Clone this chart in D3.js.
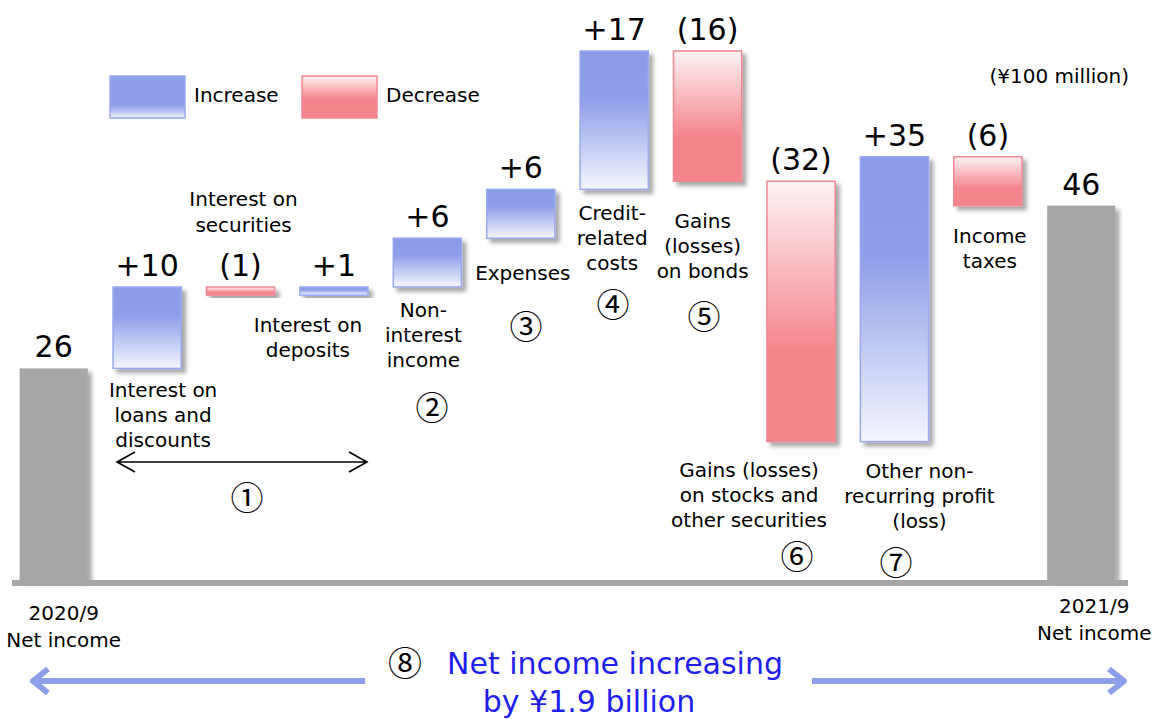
<!DOCTYPE html>
<html>
<head>
<meta charset="utf-8">
<script src="https://cdn.jsdelivr.net/npm/d3@7"></script>
<style>
  body { margin: 0; background: #fff; }
  text { font-family: "DejaVu Sans", Verdana, sans-serif; fill: #000; }
</style>
</head>
<body>
<svg width="1153" height="719"></svg>
<script>
// данные: категории, изменения и подписи
const categories = ["2020/9 Net income", "Interest on loans and discounts", "Interest on securities",
    "Interest on deposits", "Non-interest income", "Expenses", "Credit-related costs",
    "Gains (losses) on bonds", "Gains (losses) on stocks and other securities",
    "Other non-recurring profit (loss)", "Income taxes", "2021/9 Net income"];
const values = [26, 10, -1, 1, 6, 6, 17, -16, -32, 35, -6, 46];
const kinds = ["total", "delta", "delta", "delta", "delta", "delta", "delta", "delta", "delta", "delta", "delta", "total"];
const valueLabels = ["26", "+10", "(1)", "+1", "+6", "+6", "+17", "(16)", "(32)", "+35", "(6)", "46"];
const labelLines = [
    ["2020/9", "Net income"], ["Interest on", "loans and", "discounts"], ["Interest on", "securities"],
    ["Interest on", "deposits"], ["Non-", "interest", "income"], ["Expenses"], ["Credit-", "related", "costs"],
    ["Gains", "(losses)", "on bonds"], ["Gains (losses)", "on stocks and", "other securities"],
    ["Other non-", "recurring profit", "(loss)"], ["Income", "taxes"], ["2021/9", "Net income"]];
const groupMarks = ["①", "②", "③", "④", "⑤", "⑥", "⑦"];
const legendItems = ["Increase", "Decrease"];
const unitText = "(¥100 million)";
const summaryMark = "⑧";
const summaryLines = ["Net income increasing", "by ¥1.9 billion"];

// раскладка подписей: смещение от центра столбца и базовая линия первой строки
const labelAt = [
    {dx: 10, y: 620, lh: 27}, {dx: 16, y: 397, lh: 25}, {dx: 3, y: 206, lh: 26}, {dx: -26, y: 332, lh: 25},
    {dx: -4, y: 317, lh: 25}, {dx: 2, y: 280, lh: 25}, {dx: -2, y: 220, lh: 25}, {dx: -5, y: 228, lh: 25},
    {dx: -52, y: 477, lh: 25}, {dx: 25, y: 478, lh: 25}, {dx: 2, y: 243, lh: 25}, {dx: 13, y: 613, lh: 27}];
const markAt = [{x: 247, y: 498}, {x: 432, y: 408}, {x: 526, y: 327}, {x: 613, y: 305},
    {x: 704, y: 317}, {x: 797, y: 557}, {x: 896, y: 563}];

const svg = d3.select("svg");

// накопленные значения для водопада
let acc = 0;
const bars = values.map((v, i) => {
    let b;
    if (kinds[i] === "total") { b = {y0: 0, y1: v}; acc = v; }
    else { b = {y0: acc, y1: acc + v}; acc += v; }
    return {i, v, kind: kinds[i], lo: Math.min(b.y0, b.y1), hi: Math.max(b.y0, b.y1)};
});

const x = d3.scaleBand().domain(d3.range(categories.length)).range([7, 1128])
    .paddingInner(0.27).paddingOuter(0.135);
const y = d3.scaleLinear().domain([0, 65]).range([580, 51]);

const defs = svg.append("defs");
const shadow = defs.append("filter").attr("id", "shadow")
    .attr("x", "-20%").attr("y", "-20%").attr("width", "150%").attr("height", "150%");
shadow.append("feDropShadow").attr("dx", 4).attr("dy", 4).attr("stdDeviation", 2.2)
    .attr("flood-color", "#000").attr("flood-opacity", 0.35);

function grad(id, stops) {
    const g = defs.append("linearGradient").attr("id", id)
        .attr("x1", 0).attr("y1", 0).attr("x2", 0).attr("y2", 1);
    stops.forEach(s => g.append("stop").attr("offset", s[0]).attr("stop-color", s[1]));
}
grad("gUp", [[0, "#8b9be8"], [0.35, "#8e9ee9"], [1, "#f4f6fd"]]);
grad("gDown", [[0, "#fdf3f4"], [0.65, "#f4858d"], [1, "#f4858d"]]);
grad("gUpLeg", [[0, "#8e9ee9"], [0.7, "#8e9ee9"], [1, "#eef1fc"]]);
grad("gDownLeg", [[0, "#fdf3f4"], [0.55, "#f4858d"], [1, "#f4858d"]]);

const fillOf = d => d.kind === "total" ? "#a6a6a6" : (d.v >= 0 ? "url(#gUp)" : "url(#gDown)");
const strokeOf = d => d.kind === "total" ? "none" : (d.v >= 0 ? "#9aa9ee" : "#f08891");

svg.append("g").selectAll("rect").data(bars).join("rect")
    .attr("x", d => x(d.i))
    .attr("y", d => y(d.hi))
    .attr("width", x.bandwidth())
    .attr("height", d => y(d.lo) - y(d.hi))
    .attr("fill", fillOf)
    .attr("stroke", strokeOf)
    .attr("stroke-width", 1.5)
    .attr("filter", "url(#shadow)");

// базовая линия
svg.append("line")
    .attr("x1", 12).attr("x2", 1128).attr("y1", y(0) + 3).attr("y2", y(0) + 3)
    .attr("stroke", "#a6a6a6").attr("stroke-width", 6);

// подписи значений
svg.append("g").selectAll("text").data(bars).join("text")
    .attr("x", d => x(d.i) + x.bandwidth() / 2)
    .attr("y", d => y(d.hi) - 11)
    .attr("text-anchor", "middle")
    .style("font-size", "30px")
    .text(d => valueLabels[d.i]);

// подписи категорий
const cat = svg.append("g").selectAll("text").data(bars).join("text")
    .attr("text-anchor", "middle")
    .style("font-size", "20px");
cat.each(function(d) {
    const pos = labelAt[d.i];
    const cx = x(d.i) + x.bandwidth() / 2 + pos.dx;
    d3.select(this).selectAll("tspan").data(labelLines[d.i]).join("tspan")
        .attr("x", cx)
        .attr("y", (t, k) => pos.y + k * pos.lh)
        .text(t => t);
});

// номера групп
svg.append("g").selectAll("text").data(groupMarks).join("text")
    .attr("x", (m, k) => markAt[k].x)
    .attr("y", (m, k) => markAt[k].y + 12)
    .attr("text-anchor", "middle")
    .style("font-family", "'Noto Sans CJK JP', sans-serif")
    .style("font-size", "33px")
    .text(m => m);

// двойная стрелка под группой ①
const arrowY = 462;
svg.append("path")
    .attr("d", `M117,${arrowY}H367M135,${arrowY - 10}L117,${arrowY}L135,${arrowY + 10}M349,${arrowY - 10}L367,${arrowY}L349,${arrowY + 10}`)
    .attr("fill", "none").attr("stroke", "#000").attr("stroke-width", 1.6);

// легенда
const legend = svg.append("g").selectAll("g").data(legendItems).join("g")
    .attr("transform", (t, k) => `translate(${110 + k * 192},76)`);
legend.append("rect")
    .attr("width", 75).attr("height", 42)
    .attr("fill", (t, k) => k === 0 ? "url(#gUpLeg)" : "url(#gDownLeg)")
    .attr("stroke", (t, k) => k === 0 ? "#9aa9ee" : "#f08891")
    .attr("stroke-width", 1.5);
legend.append("text")
    .attr("x", 84).attr("y", 26)
    .style("font-size", "20px")
    .text(t => t);

svg.append("text")
    .attr("x", 1129).attr("y", 83)
    .attr("text-anchor", "end")
    .style("font-size", "20px")
    .text(unitText);

// итоговая подпись и синие стрелки
const blue = "#8e9fe9";
const sumY = 681;
svg.append("path")
    .attr("d", `M365,${sumY}H34M48,${sumY - 12}L33,${sumY}L48,${sumY + 12}`)
    .attr("fill", "none").attr("stroke", blue).attr("stroke-width", 6)
    .attr("stroke-linejoin", "round").attr("stroke-linecap", "butt");
svg.append("path")
    .attr("d", `M812,${sumY}H1123M1109,${sumY - 12}L1124,${sumY}L1109,${sumY + 12}`)
    .attr("fill", "none").attr("stroke", blue).attr("stroke-width", 6)
    .attr("stroke-linejoin", "round").attr("stroke-linecap", "butt");

svg.append("text")
    .attr("x", 405).attr("y", 676)
    .attr("text-anchor", "middle")
    .style("font-family", "'Noto Sans CJK JP', sans-serif")
    .style("font-size", "34px")
    .text(summaryMark);
svg.append("text")
    .attr("x", 615).attr("y", 674)
    .attr("text-anchor", "middle")
    .style("font-size", "30px")
    .style("fill", "#1f1ff0")
    .text(summaryLines[0]);
svg.append("text")
    .attr("x", 589).attr("y", 712)
    .attr("text-anchor", "middle")
    .style("font-size", "30px")
    .style("fill", "#1f1ff0")
    .text(summaryLines[1]);
</script>
</body>
</html>
